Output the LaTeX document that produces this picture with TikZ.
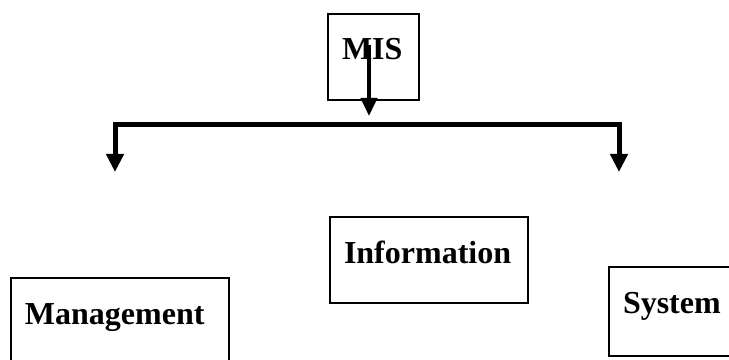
\documentclass[tikz,border=0pt]{standalone}
\usepackage{fontspec}
\setmainfont{Liberation Serif}
\usetikzlibrary{arrows.meta}
\tikzset{txt box/.style={draw,line width=1.5pt,anchor=north west,inner xsep=10.5pt,inner ysep=0pt,align=left,text height=34.5pt,font=\bfseries\fontsize{24}{28}\selectfont},
         bar line/.style={line width=3.75pt,line join=miter},
         down tip/.style={-{Triangle[width=12.75pt,length=13.5pt]}}}

\begin{document}
\begin{tikzpicture}[x=0.75pt,y=-0.75pt]
            \useasboundingbox (0,0) rectangle (729,360);
            \node[txt box,text width=47.25pt,text depth=30pt] (mis) at (327,13) {MIS};
            \node[txt box,text width=127.5pt,text depth=30pt] (info) at (329,216) {Information};
            \node[txt box,text width=142.5pt,text depth=40.5pt] (mgmt) at (10,277) {Management};
            \node[txt box,text width=78pt,text depth=32.25pt] (sys) at (608,266) {System};
            
            \coordinate (mis tail) at (369,45);
            \coordinate (mis tip) at (369,116);
            \coordinate (bar left) at (115,125);
            \coordinate (bar right) at (619,125);
            \coordinate (left tip) at (115,172);
            \coordinate (right tip) at (619,172);
            
            \draw[line width=3pt,-{Triangle[width=12pt,length=13.5pt]}] (mis tail) -- (mis tip);
            \draw[bar line,down tip] (bar right) -- (bar left) -- (left tip);
            \draw[bar line,down tip] (bar left) -- (bar right) -- (right tip);
        \end{tikzpicture}
\end{document}
